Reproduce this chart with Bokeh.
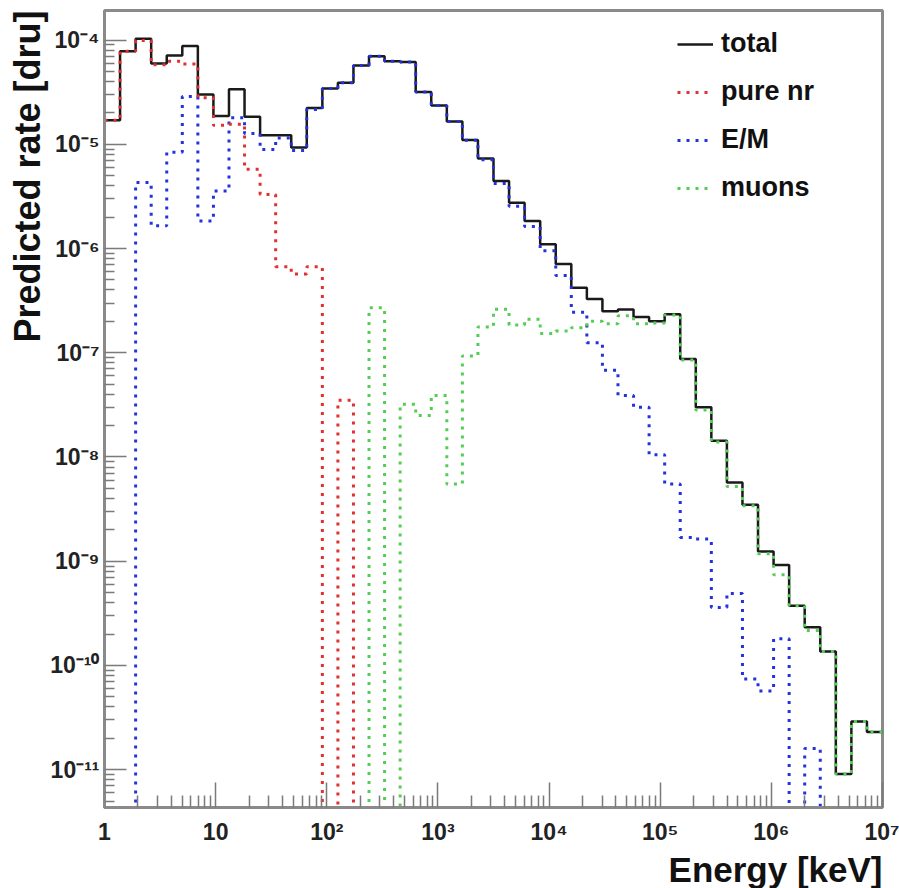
import math
import numpy as np
from bokeh.plotting import figure
from bokeh.models import (Range1d, FixedTicker, CustomJSTickFormatter, Legend,
                          LegendItem, Title)
from bokeh.embed import file_html
from bokeh.resources import INLINE

# Histogram binning: 50 log-spaced bins from 1 keV to 10^7 keV
E_MIN, E_MAX, N_BINS = 1.0, 1.0e7, 50
Y_MIN, Y_MAX = 4.34e-12, 1.92e-4

# Predicted rate per bin [dru]; 0 means an empty bin
total = [
    1.7e-5, 7.8e-5, 1.03e-4, 5.97e-5, 7.1e-5, 8.75e-5, 3.0e-5, 1.87e-5, 3.37e-5, 1.84e-5,
    1.22e-5, 1.22e-5, 9.3e-6, 2.23e-5, 3.42e-5, 3.9e-5, 5.7e-5, 7.0e-5, 6.25e-5, 6.15e-5,
    3.18e-5, 2.35e-5, 1.65e-5, 1.1e-5, 7.3e-6, 4.45e-6, 2.75e-6, 1.84e-6, 1.1e-6, 7.1e-7,
    4.2e-7, 3.27e-7, 2.5e-7, 2.6e-7, 2.2e-7, 2.0e-7, 2.34e-7, 8.7e-8, 3.0e-8, 1.43e-8,
    5.7e-9, 3.48e-9, 1.24e-9, 9.2e-10, 3.74e-10, 2.32e-10, 1.36e-10, 9.1e-12, 2.9e-11, 2.3e-11,
]
pure_nr = [
    1.7e-5, 7.8e-5, 9.9e-5, 5.8e-5, 6.26e-5, 5.9e-5, 2.8e-5, 1.52e-5, 1.56e-5, 5.75e-6,
    3.3e-6, 6.7e-7, 5.7e-7, 6.7e-7, 0, 3.5e-8, 0, 0, 0, 0,
    0, 0, 0, 0, 0, 0, 0, 0, 0, 0,
    0, 0, 0, 0, 0, 0, 0, 0, 0, 0,
    0, 0, 0, 0, 0, 0, 0, 0, 0, 0,
]
em = [
    0, 0, 4.3e-6, 1.65e-6, 8.4e-6, 2.87e-5, 1.84e-6, 3.56e-6, 1.8e-5, 1.27e-5,
    8.9e-6, 1.15e-5, 8.7e-6, 2.16e-5, 3.42e-5, 3.9e-5, 5.7e-5, 6.97e-5, 6.25e-5, 6.15e-5,
    3.18e-5, 2.35e-5, 1.65e-5, 1.09e-5, 7.1e-6, 4.2e-6, 2.55e-6, 1.63e-6, 9.5e-7, 5.5e-7,
    2.45e-7, 1.25e-7, 6.8e-8, 3.9e-8, 3.0e-8, 1.05e-8, 5.5e-9, 1.69e-9, 1.63e-9, 3.6e-10,
    4.9e-10, 7.4e-11, 5.7e-11, 1.8e-10, 0, 1.6e-11, 0, 0, 0, 0,
]
muons = [
    0, 0, 0, 0, 0, 0, 0, 0, 0, 0,
    0, 0, 0, 0, 0, 0, 0, 2.7e-7, 0, 3.2e-8,
    2.5e-8, 3.9e-8, 5.5e-9, 9.3e-8, 1.77e-7, 2.62e-7, 1.85e-7, 2.1e-7, 1.53e-7, 1.62e-7,
    1.74e-7, 2.0e-7, 1.9e-7, 2.26e-7, 1.9e-7, 1.93e-7, 2.3e-7, 8.5e-8, 2.83e-8, 1.39e-8,
    5.2e-9, 3.4e-9, 1.18e-9, 7.4e-10, 3.74e-10, 2.16e-10, 1.36e-10, 9.1e-12, 2.9e-11, 2.3e-11,
]

series_names = ["total", "pure nr", "E/M", "muons"]

edges = np.logspace(math.log10(E_MIN), math.log10(E_MAX), N_BINS + 1)

FONT = "Liberation Sans"
AXIS_GREY = "#8a8a8a"

p = figure(width=899, height=888,
           x_axis_type="log", y_axis_type="log",
           x_range=Range1d(E_MIN, E_MAX), y_range=Range1d(Y_MIN, Y_MAX),
           output_backend="svg", toolbar_location=None,
           min_border_left=104, min_border_right=17,
           min_border_top=10, min_border_bottom=81)
p.background_fill_color = "white"
p.border_fill_color = "white"
p.outline_line_color = AXIS_GREY
p.outline_line_width = 3
p.xgrid.visible = False
p.ygrid.visible = False


def step_y(values):
    # empty bins sit on the lower edge of the frame, as on a log-scale histogram
    v = np.asarray(values, dtype=float)
    v = np.where(v > 0, v, Y_MIN)
    return np.append(v, v[-1])


r_total = p.step(edges, step_y(total), mode="after",
                 line_color="#1a1a1a", line_width=2.5)
r_em = p.step(edges, step_y(em), mode="after",
              line_color="#2233dd", line_width=3, line_dash="3 6")
r_mu = p.step(edges, step_y(muons), mode="after",
              line_color="#55cc55", line_width=3, line_dash="3 6")
r_nr = p.step(edges, step_y(pure_nr), mode="after",
              line_color="#e03030", line_width=3, line_dash="3 6")

# decade ticks with 2..9 minor ticks
x_major = [10.0 ** k for k in range(0, 8)]
x_minor = [m * 10.0 ** k for k in range(0, 7) for m in range(2, 10)]
y_major = [10.0 ** k for k in range(-11, -3)]
y_minor = [m * 10.0 ** k for k in range(-12, -3) for m in range(2, 10)]

sup_formatter = CustomJSTickFormatter(code="""
const sup = {"-": "\\u207b", "0": "\\u2070", "1": "\\u00b9", "2": "\\u00b2",
             "3": "\\u00b3", "4": "\\u2074", "5": "\\u2075", "6": "\\u2076",
             "7": "\\u2077", "8": "\\u2078", "9": "\\u2079"};
const e = Math.round(Math.log10(tick));
if (e == 0) { return "1"; }
if (e == 1) { return "10"; }
return "10" + String(e).split("").map(c => sup[c]).join("");
""")

for ax, major, minor, tin, tmin, standoff in (
        (p.xaxis[0], x_major, x_minor, 25, 12, 11),
        (p.yaxis[0], y_major, y_minor, 22, 10, 5)):
    ax.ticker = FixedTicker(ticks=major, minor_ticks=minor)
    ax.formatter = sup_formatter
    ax.axis_line_color = AXIS_GREY
    ax.axis_line_width = 3
    ax.major_tick_in = tin
    ax.major_tick_out = 0
    ax.minor_tick_in = tmin
    ax.minor_tick_out = 0
    ax.major_tick_line_color = "#7a7a7a"
    ax.minor_tick_line_color = "#7a7a7a"
    ax.major_tick_line_width = 1.5
    ax.minor_tick_line_width = 1.5
    ax.major_label_standoff = standoff
    ax.major_label_text_font = FONT
    ax.major_label_text_font_style = "bold"
    ax.major_label_text_font_size = "23px"
    ax.major_label_text_color = "#222222"

# axis titles, right/top aligned against the frame
p.add_layout(Title(text="Energy [keV]", align="right", standoff=0, offset=0,
                   text_font=FONT, text_font_style="bold", text_font_size="35px",
                   text_color="#111111"), "below")
p.add_layout(Title(text="Predicted rate [dru]", align="right", standoff=0, offset=0,
                   text_font=FONT, text_font_style="bold", text_font_size="36px",
                   text_color="#111111"), "left")

legend = Legend(items=[LegendItem(label=series_names[0], renderers=[r_total]),
                       LegendItem(label=series_names[1], renderers=[r_nr]),
                       LegendItem(label=series_names[2], renderers=[r_em]),
                       LegendItem(label=series_names[3], renderers=[r_mu])],
                location="top_right", margin=18, padding=0, spacing=17,
                glyph_width=36, glyph_height=24, label_height=24,
                label_width=143, label_standoff=8,
                label_text_font=FONT, label_text_font_style="bold",
                label_text_font_size="27px", label_text_color="#111111",
                border_line_color=None, background_fill_alpha=0)
p.add_layout(legend)

open("out.html", "w").write(file_html(p, INLINE))
